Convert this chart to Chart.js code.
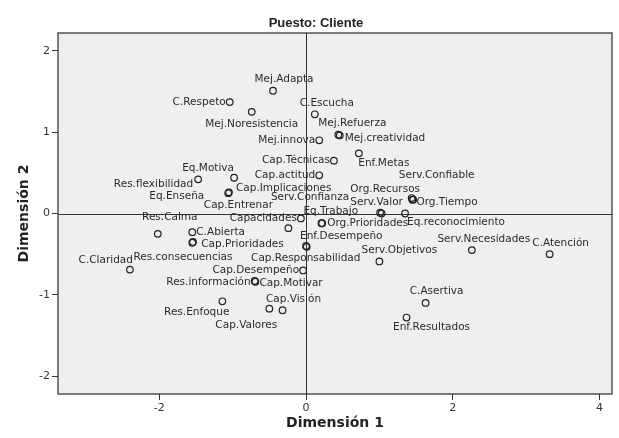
<!DOCTYPE html>
<html>
<head>
<meta charset="utf-8">
<script src="https://cdn.jsdelivr.net/npm/chart.js@4.4.1/dist/chart.umd.min.js"></script>
<style>
  body { margin: 0; background: #fff; }
</style>
</head>
<body>
<canvas id="myChart" width="619" height="438"></canvas>
<script>
// Puntos de categoría (Dimensión 1 / Dimensión 2)
const categories = [
  'Mej.Adapta', 'C.Respeto', 'Mej.Noresistencia', 'C.Escucha', 'Mej.Refuerza',
  'Mej.creatividad', 'Mej.innova', 'Cap.Técnicas', 'Enf.Metas', 'Cap.actitud',
  'Serv.Confiable', 'Eq.Motiva', 'Res.flexibilidad', 'Cap.Implicaciones', 'Eq.Enseña',
  'Cap.Entrenar', 'Org.Recursos', 'Serv.Confianza', 'Serv.Valor', 'Org.Tiempo',
  'Res.Calma', 'Capacidades', 'Eq.Trabajo', 'Org.Prioridades', 'Eq.reconocimiento',
  'C.Abierta', 'Enf.Desempeño', 'Cap.Prioridades', 'Serv.Necesidades', 'C.Atención',
  'C.Claridad', 'Res.consecuencias', 'Cap.Responsabilidad', 'Serv.Objetivos', 'Cap.Desempeño',
  'Res.información', 'Cap.Motivar', 'C.Asertiva', 'Cap.Visión', 'Res.Enfoque',
  'Enf.Resultados', 'Cap.Valores'
]
const dim1 = [
  -0.45, -1.04, -0.74, 0.12, 0.44,
  0.46, 0.18, 0.38, 0.72, 0.18,
  1.44, -0.98, -1.47, -1.05, -1.06,
  -0.24, 1.46, 1.01, 1.03, 1.45,
  -2.02, -0.07, 0.21, 0.22, 1.35,
  -1.55, 0.00, -1.55, 2.26, 3.32,
  -2.40, -1.54, 0.01, 1.00, -0.04,
  -0.70, -0.69, 1.63, -0.32, -1.14,
  1.37, -0.50
]
const dim2 = [
  1.51, 1.37, 1.25, 1.22, 0.97,
  0.96, 0.90, 0.65, 0.74, 0.47,
  0.19, 0.44, 0.42, 0.26, 0.25,
  -0.18, 0.17, 0.01, 0.00, 0.17,
  -0.25, -0.06, -0.12, -0.12, 0.00,
  -0.23, -0.40, -0.36, -0.45, -0.50,
  -0.69, -0.35, -0.41, -0.59, -0.70,
  -0.83, -0.84, -1.10, -1.19, -1.08,
  -1.28, -1.17
]
const xTicks = [-2, 0, 2, 4]
const yTicks = [-2, -1, 0, 1, 2]

// where each label sits next to its point: [align, dx, dy] in px
const labelPlace = {
  'Mej.Adapta': ['c', 11, -11], 'C.Respeto': ['r', -4, 0], 'Mej.Noresistencia': ['c', 0, 12],
  'C.Escucha': ['c', 12, -11], 'Mej.Refuerza': ['c', 14, -11], 'Mej.creatividad': ['l', 5, 3],
  'Mej.innova': ['r', -4, 0], 'Cap.Técnicas': ['r', -4, 0], 'Enf.Metas': ['c', 25, 10],
  'Cap.actitud': ['r', -4, 0], 'Serv.Confiable': ['c', 25, -23], 'Eq.Motiva': ['c', -26, -9],
  'Res.flexibilidad': ['r', -5, 5], 'Cap.Implicaciones': ['l', 7, -4], 'Eq.Enseña': ['r', -24, 3],
  'Cap.Entrenar': ['c', -50, -23], 'Org.Recursos': ['c', -28, -10], 'Serv.Confianza': ['r', -31, -15],
  'Serv.Valor': ['c', -5, -11], 'Org.Tiempo': ['l', 4, 3], 'Res.Calma': ['c', 12, -17],
  'Capacidades': ['r', -4, 0], 'Eq.Trabajo': ['l', -18, -12], 'Org.Prioridades': ['l', 5, 0],
  'Eq.reconocimiento': ['l', 2, 9], 'C.Abierta': ['l', 4, 0], 'Enf.Desempeño': ['l', -6, -10],
  'Cap.Prioridades': ['l', 9, 1], 'Serv.Necesidades': ['c', 12, -11], 'C.Atención': ['c', 11, -11],
  'C.Claridad': ['r', 3, -9], 'Res.consecuencias': ['c', -10, 15], 'Cap.Responsabilidad': ['c', -1, 11],
  'Serv.Objetivos': ['c', 20, -11], 'Cap.Desempeño': ['r', -4, 0], 'Res.información': ['r', -4, 1],
  'Cap.Motivar': ['l', 4, 1], 'C.Asertiva': ['c', 11, -12], 'Cap.Visión': ['c', 11, -11],
  'Res.Enfoque': ['r', 7, 11], 'Enf.Resultados': ['c', 25, 10], 'Cap.Valores': ['c', -23, 17]
}

const points = categories.map((name, i) => ({ x: dim1[i], y: dim2[i] }))

// grey plot background, frame, zero lines, title and point labels
const spssLook = {
  id: 'spssLook',
  beforeDatasetsDraw(chart) {
    const { ctx, chartArea: a, scales } = chart
    ctx.save()
    ctx.fillStyle = '#efefef'
    ctx.fillRect(a.left, a.top, a.right - a.left, a.bottom - a.top)
    ctx.strokeStyle = '#333'
    ctx.lineWidth = 1
    const x0 = Math.round(scales.x.getPixelForValue(0)) + 0.5
    const y0 = Math.round(scales.y.getPixelForValue(0)) + 0.5
    ctx.beginPath()
    ctx.moveTo(x0, a.top)
    ctx.lineTo(x0, a.bottom)
    ctx.moveTo(a.left, y0)
    ctx.lineTo(a.right, y0)
    ctx.stroke()
    ctx.strokeStyle = '#3a3a3a'
    ctx.lineWidth = 1.3
    ctx.strokeRect(a.left, a.top, a.right - a.left, a.bottom - a.top)
    ctx.restore()
  },
  afterDatasetsDraw(chart) {
    const { ctx } = chart
    const meta = chart.getDatasetMeta(0)
    ctx.save()
    ctx.font = '10.5px "DejaVu Sans"'
    ctx.fillStyle = '#2b2b2b'
    ctx.textBaseline = 'middle'
    categories.forEach((name, i) => {
      const pt = meta.data[i]
      const p = labelPlace[name] || ['l', 5, 0]
      ctx.textAlign = p[0] === 'l' ? 'left' : p[0] === 'r' ? 'right' : 'center'
      ctx.fillText(name, pt.x + p[1], pt.y + p[2])
    })
    // chart title
    ctx.font = 'bold 13px "Liberation Sans"'
    ctx.fillStyle = '#222'
    ctx.textAlign = 'center'
    ctx.fillText('Puesto: Cliente', 316, 23)
    ctx.restore()
  }
}

const ctx = document.getElementById('myChart').getContext('2d')

new Chart(ctx, {
  type: 'scatter',
  data: {
    datasets: [
      {
        data: points,
        pointStyle: 'circle',
        pointRadius: 3.3,
        pointBorderWidth: 1.2,
        pointBorderColor: '#222',
        pointBackgroundColor: 'rgba(0,0,0,0)',
      },
    ],
  },
  options: {
    responsive: false,
    animation: false,
    events: [],
    layout: { padding: { top: 33, right: 7, left: 0, bottom: 0 } },
    plugins: {
      legend: { display: false },
      tooltip: { enabled: false },
    },
    scales: {
      x: {
        type: 'linear',
        min: -3.38,
        max: 4.17,
        afterBuildTicks: (s) => { s.ticks = xTicks.map((v) => ({ value: v })) },
        afterFit: (s) => { s.height = 44 },
        grid: { drawOnChartArea: false, drawTicks: true, tickLength: 6, color: '#333' },
        border: { display: false },
        ticks: { color: '#333', padding: 2, font: { family: 'DejaVu Sans', size: 11 } },
        title: {
          display: true,
          text: 'Dimensión 1',
          color: '#222',
          font: { family: 'DejaVu Sans', size: 14, weight: 'bold' },
          padding: { top: 0, bottom: 6 },
        },
      },
      y: {
        type: 'linear',
        min: -2.22,
        max: 2.22,
        afterBuildTicks: (s) => { s.ticks = yTicks.map((v) => ({ value: v })) },
        afterFit: (s) => { s.width = 58 },
        grid: { drawOnChartArea: false, drawTicks: true, tickLength: 6, color: '#333' },
        border: { display: false },
        ticks: { color: '#333', padding: 2, font: { family: 'DejaVu Sans', size: 11 } },
        title: {
          display: true,
          text: 'Dimensión 2',
          color: '#222',
          font: { family: 'DejaVu Sans', size: 14, weight: 'bold' },
          padding: { top: 16, bottom: 0 },
        },
      },
    },
  },
  plugins: [spssLook],
})
</script>
</body>
</html>
